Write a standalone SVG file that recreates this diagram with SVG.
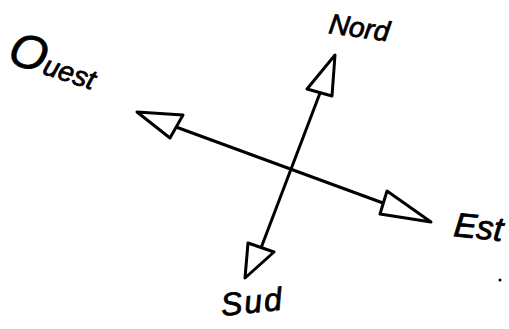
<svg xmlns="http://www.w3.org/2000/svg" width="509" height="329" viewBox="0 0 509 329">
<style>
.ln{stroke:#000;stroke-width:3;fill:none;stroke-linecap:round}
.hd{stroke:#000;stroke-width:3;fill:#fff;stroke-linejoin:round}
.lb{font-family:"Liberation Sans",sans-serif;font-style:italic;fill:#000;stroke:#000;stroke-width:0.8}
</style>
<rect width="509" height="329" fill="#fff"/>
<g id="connectors">
<line class="ln" x1="320" y1="93" x2="261" y2="248"/>
<line class="ln" x1="176" y1="127" x2="383" y2="203"/>
</g>
<g id="north">
<polygon class="hd" points="335,55 307,89 332,96"/>
<text class="lb" font-size="28" transform="translate(328,33) rotate(8)">Nord</text>
</g>
<g id="west">
<polygon class="hd" points="137,112 183,115 170,138"/>
<text class="lb" font-size="28" transform="translate(6,62) rotate(18)"><tspan font-size="48">O</tspan>uest</text>
</g>
<g id="east">
<polygon class="hd" points="431,222 387,191 380,214"/>
<text class="lb" font-size="34" transform="translate(453,236) rotate(6)">Est</text>
</g>
<g id="south">
<polygon class="hd" points="245,278 248,243 274,252"/>
<text class="lb" font-size="32" transform="translate(222,316) rotate(-6)" letter-spacing="2">Sud</text>
</g>
<circle cx="500" cy="280" r="1.5" fill="#000"/>
</svg>
